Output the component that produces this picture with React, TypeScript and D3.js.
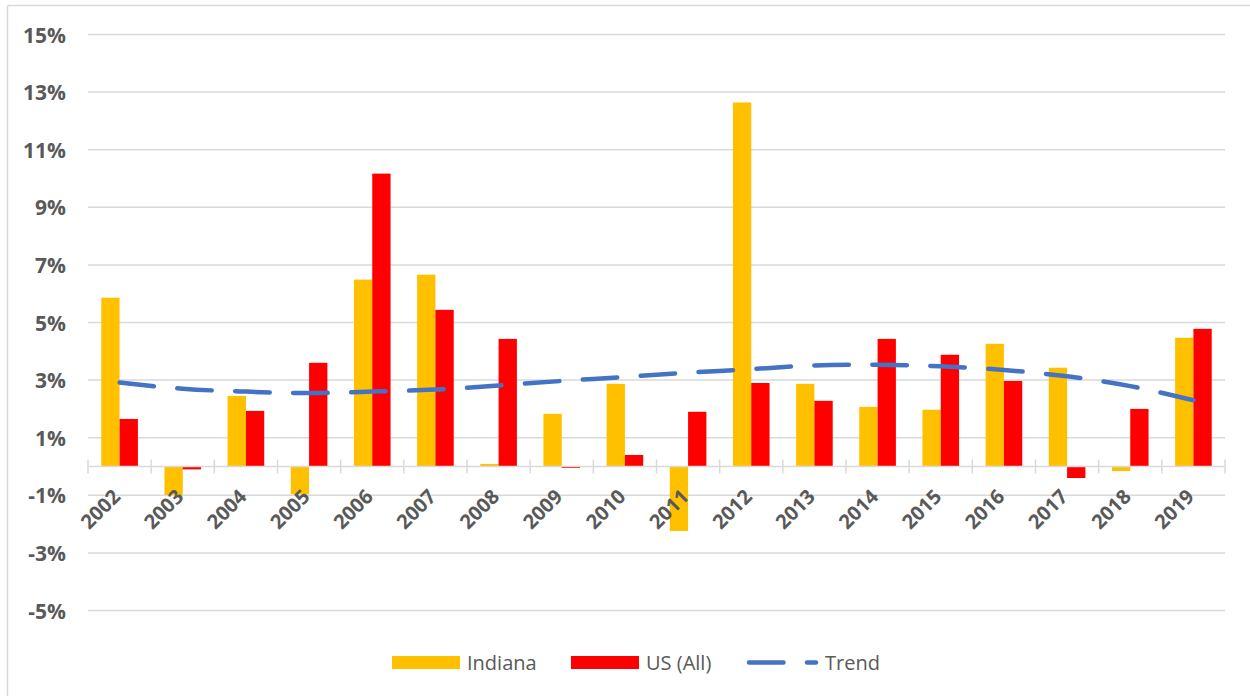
import React from "react";
import * as d3 from "d3";

const years = ["2002","2003","2004","2005","2006","2007","2008","2009","2010","2011","2012","2013","2014","2015","2016","2017","2018","2019"];
const indiana = [5.86, -0.99, 2.45, -0.96, 6.49, 6.66, 0.09, 1.83, 2.87, -2.24, 12.64, 2.87, 2.07, 1.97, 4.26, 3.43, -0.16, 4.47];
const usAll = [1.65, -0.1, 1.93, 3.6, 10.17, 5.44, 4.43, -0.05, 0.4, 1.9, 2.9, 2.28, 4.43, 3.88, 2.97, -0.4, 2.0, 4.78];
const trend = [2.92, 2.70, 2.60, 2.55, 2.60, 2.67, 2.81, 2.97, 3.11, 3.26, 3.38, 3.51, 3.53, 3.48, 3.35, 3.13, 2.79, 2.30];
const yTicks = [-5, -3, -1, 1, 3, 5, 7, 9, 11, 13, 15];
const seriesNames = ["Indiana", "US (All)", "Trend"];

const W = 1250, H = 696;
const FONT = "'Open Sans', 'Liberation Sans', sans-serif";
const TXT = "#595959";
const GRID = "#D9D9D9";
const C_IND = "#FFC000";
const C_US = "#FF0000";
const C_TR = "#4472C4";

export default function App() {
  const x = d3.scaleBand<string>().domain(years).range([88, 1225]).padding(0);
  const inner = d3.scaleBand<string>().domain(["ind", "us"]).range([0, x.bandwidth()]).paddingInner(0).paddingOuter(0.725);
  const y = d3.scaleLinear().domain([-5, 15]).range([610.5, 34.5]);
  const y0 = y(0);
  const line = d3.line<number>()
    .x((_, i) => (x(years[i]) as number) + x.bandwidth() / 2)
    .y((d) => y(d))
    .curve(d3.curveNatural);
  const tickXs = d3.range(years.length + 1).map((i) => 88 + i * x.step());

  const bar = (v: number, yr: string, key: string, color: string) => {
    const bx = (x(yr) as number) + (inner(key) as number);
    const top = Math.min(y(v), y0);
    const h = Math.abs(y(v) - y0);
    return <rect key={key + yr} x={bx} y={top} width={inner.bandwidth()} height={h} fill={color} />;
  };

  return (
    <svg width={W} height={H} style={{ position: "absolute", left: 0, top: 0, background: "#fff" }} fontFamily={FONT}>
      <rect x={0} y={0} width={W} height={H} fill="#fff" />
      {/* chart border (partially off-page) */}
      <line x1={7.5} y1={5.5} x2={W} y2={5.5} stroke={GRID} strokeWidth={1.5} />
      <line x1={7.5} y1={5.5} x2={7.5} y2={H} stroke={GRID} strokeWidth={1.5} />
      {/* gridlines */}
      {yTicks.map((t) => (
        <line key={"g" + t} x1={88} x2={1225} y1={y(t)} y2={y(t)} stroke={GRID} strokeWidth={1.5} />
      ))}
      {yTicks.map((t) => (
        <text key={"yl" + t} x={66} y={y(t) + 8} textAnchor="end" fontSize={21} fontWeight="bold" fill={TXT}>
          {t + "%"}
        </text>
      ))}
      {/* bars */}
      {years.map((yr, i) => bar(indiana[i], yr, "ind", C_IND))}
      {years.map((yr, i) => bar(usAll[i], yr, "us", C_US))}
      {/* category axis at zero */}
      <line x1={88} x2={1225} y1={y0} y2={y0} stroke={GRID} strokeWidth={1.5} />
      {tickXs.map((tx, i) => (
        <line key={"t" + i} x1={tx} x2={tx} y1={y0 - 7} y2={y0 + 7} stroke={GRID} strokeWidth={1.5} />
      ))}
      {years.map((yr) => {
        const cx = (x(yr) as number) + x.bandwidth() / 2;
        return (
          <text key={"xl" + yr} transform={`translate(${cx + 2},${498}) rotate(-45)`} textAnchor="end" fontSize={20} fontWeight="bold" fill={TXT}>
            {yr}
          </text>
        );
      })}
      {/* trend */}
      <path d={line(trend) || ""} fill="none" stroke={C_TR} strokeWidth={4.5} strokeLinecap="round" strokeDasharray="34.5 23.5" />
      {/* legend */}
      <rect x={392} y={656} width={68} height={13} fill={C_IND} />
      <text x={467} y={670} fontSize={20} fill={TXT}>{seriesNames[0]}</text>
      <rect x={571} y={656} width={68} height={13} fill={C_US} />
      <text x={646} y={670} fontSize={20} fill={TXT}>{seriesNames[1]}</text>
      <line x1={749} x2={816} y1={662.5} y2={662.5} stroke={C_TR} strokeWidth={4.5} strokeLinecap="round" strokeDasharray="34.5 23.5" />
      <text x={825} y={670} fontSize={20} fill={TXT}>{seriesNames[2]}</text>
    </svg>
  );
}
